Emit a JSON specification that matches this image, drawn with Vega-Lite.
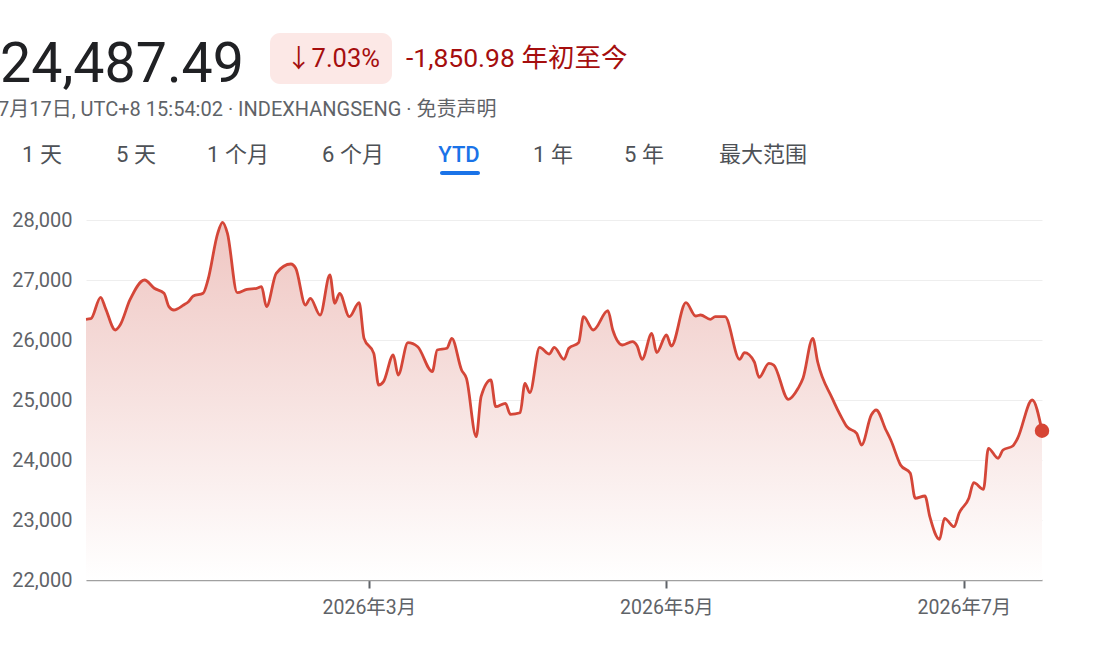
{
  "$schema": "https://vega.github.io/schema/vega-lite/v6.json",
  "width": 956,
  "height": 360,
  "autosize": "none",
  "padding": {"left": 86, "top": 220, "right": 58, "bottom": 66},
  "background": "white",
  "config": {
    "view": {"stroke": null},
    "font": "Roboto, 'Noto Sans CJK SC', sans-serif"
  },
  "data": {"values": [
    {"date": "2026-01-02", "v": 26345},
    {"date": "2026-01-03", "v": 26355},
    {"date": "2026-01-05", "v": 26712},
    {"date": "2026-01-06", "v": 26528},
    {"date": "2026-01-08", "v": 26167},
    {"date": "2026-01-09", "v": 26250},
    {"date": "2026-01-11", "v": 26667},
    {"date": "2026-01-14", "v": 27000},
    {"date": "2026-01-16", "v": 26862},
    {"date": "2026-01-18", "v": 26778},
    {"date": "2026-01-19", "v": 26555},
    {"date": "2026-01-20", "v": 26500},
    {"date": "2026-01-22", "v": 26583},
    {"date": "2026-01-23", "v": 26638},
    {"date": "2026-01-24", "v": 26733},
    {"date": "2026-01-26", "v": 26778},
    {"date": "2026-01-27", "v": 27000},
    {"date": "2026-01-29", "v": 27778},
    {"date": "2026-01-30", "v": 27962},
    {"date": "2026-01-31", "v": 27778},
    {"date": "2026-02-02", "v": 26788},
    {"date": "2026-02-04", "v": 26845},
    {"date": "2026-02-06", "v": 26862},
    {"date": "2026-02-07", "v": 26888},
    {"date": "2026-02-08", "v": 26555},
    {"date": "2026-02-10", "v": 27112},
    {"date": "2026-02-13", "v": 27267},
    {"date": "2026-02-14", "v": 27195},
    {"date": "2026-02-16", "v": 26583},
    {"date": "2026-02-17", "v": 26695},
    {"date": "2026-02-19", "v": 26417},
    {"date": "2026-02-21", "v": 27083},
    {"date": "2026-02-22", "v": 26612},
    {"date": "2026-02-23", "v": 26778},
    {"date": "2026-02-25", "v": 26388},
    {"date": "2026-02-27", "v": 26622},
    {"date": "2026-02-28", "v": 26028},
    {"date": "2026-03-02", "v": 25778},
    {"date": "2026-03-03", "v": 25250},
    {"date": "2026-03-04", "v": 25305},
    {"date": "2026-03-06", "v": 25750},
    {"date": "2026-03-07", "v": 25417},
    {"date": "2026-03-09", "v": 25955},
    {"date": "2026-03-11", "v": 25888},
    {"date": "2026-03-14", "v": 25472},
    {"date": "2026-03-15", "v": 25833},
    {"date": "2026-03-17", "v": 25862},
    {"date": "2026-03-18", "v": 26028},
    {"date": "2026-03-20", "v": 25500},
    {"date": "2026-03-21", "v": 25360},
    {"date": "2026-03-23", "v": 24388},
    {"date": "2026-03-24", "v": 25055},
    {"date": "2026-03-26", "v": 25333},
    {"date": "2026-03-27", "v": 24888},
    {"date": "2026-03-29", "v": 24945},
    {"date": "2026-03-30", "v": 24762},
    {"date": "2026-04-01", "v": 24788},
    {"date": "2026-04-02", "v": 25278},
    {"date": "2026-04-03", "v": 25122},
    {"date": "2026-04-05", "v": 25878},
    {"date": "2026-04-07", "v": 25767},
    {"date": "2026-04-08", "v": 25878},
    {"date": "2026-04-10", "v": 25678},
    {"date": "2026-04-11", "v": 25862},
    {"date": "2026-04-13", "v": 25955},
    {"date": "2026-04-14", "v": 26388},
    {"date": "2026-04-16", "v": 26167},
    {"date": "2026-04-19", "v": 26488},
    {"date": "2026-04-20", "v": 26167},
    {"date": "2026-04-22", "v": 25917},
    {"date": "2026-04-24", "v": 25972},
    {"date": "2026-04-25", "v": 25900},
    {"date": "2026-04-26", "v": 25678},
    {"date": "2026-04-28", "v": 26112},
    {"date": "2026-04-29", "v": 25790},
    {"date": "2026-05-01", "v": 26083},
    {"date": "2026-05-02", "v": 25900},
    {"date": "2026-05-05", "v": 26622},
    {"date": "2026-05-07", "v": 26400},
    {"date": "2026-05-08", "v": 26417},
    {"date": "2026-05-10", "v": 26345},
    {"date": "2026-05-11", "v": 26388},
    {"date": "2026-05-13", "v": 26388},
    {"date": "2026-05-16", "v": 25678},
    {"date": "2026-05-17", "v": 25788},
    {"date": "2026-05-19", "v": 25638},
    {"date": "2026-05-20", "v": 25378},
    {"date": "2026-05-22", "v": 25612},
    {"date": "2026-05-23", "v": 25583},
    {"date": "2026-05-26", "v": 25012},
    {"date": "2026-05-28", "v": 25195},
    {"date": "2026-05-29", "v": 25362},
    {"date": "2026-05-31", "v": 26028},
    {"date": "2026-06-01", "v": 25638},
    {"date": "2026-06-04", "v": 25028},
    {"date": "2026-06-06", "v": 24695},
    {"date": "2026-06-07", "v": 24555},
    {"date": "2026-06-09", "v": 24445},
    {"date": "2026-06-10", "v": 24250},
    {"date": "2026-06-12", "v": 24750},
    {"date": "2026-06-13", "v": 24833},
    {"date": "2026-06-15", "v": 24500},
    {"date": "2026-06-16", "v": 24333},
    {"date": "2026-06-18", "v": 23917},
    {"date": "2026-06-20", "v": 23778},
    {"date": "2026-06-21", "v": 23362},
    {"date": "2026-06-23", "v": 23400},
    {"date": "2026-06-24", "v": 23055},
    {"date": "2026-06-26", "v": 22678},
    {"date": "2026-06-27", "v": 23028},
    {"date": "2026-06-29", "v": 22888},
    {"date": "2026-06-30", "v": 23112},
    {"date": "2026-07-02", "v": 23362},
    {"date": "2026-07-03", "v": 23622},
    {"date": "2026-07-05", "v": 23512},
    {"date": "2026-07-06", "v": 24195},
    {"date": "2026-07-08", "v": 24028},
    {"date": "2026-07-09", "v": 24167},
    {"date": "2026-07-11", "v": 24233},
    {"date": "2026-07-12", "v": 24362},
    {"date": "2026-07-15", "v": 25000},
    {"date": "2026-07-17", "v": 24487.49}
  ]},
  "encoding": {
    "x": {
      "field": "date", "type": "temporal", "title": null,
      "scale": {"type": "utc", "domain": [{"year": 2026, "month": 1, "date": 2, "utc": true}, {"year": 2026, "month": 7, "date": 17, "utc": true}]},
      "axis": {
        "values": [{"year": 2026, "month": 3, "date": 1, "utc": true}, {"year": 2026, "month": 5, "date": 1, "utc": true}, {"year": 2026, "month": 7, "date": 1, "utc": true}],
        "labelExpr": "utcFormat(datum.value, '%Y年%-m月')",
        "grid": false,
        "domainColor": "#a0a0a0", "domainWidth": 1.5,
        "tickColor": "#5f6368", "tickSize": 8, "tickWidth": 2,
        "labelFontSize": 19.5, "labelColor": "#5f6368", "labelPadding": 10
      }
    },
    "y": {
      "field": "v", "type": "quantitative", "title": null,
      "scale": {"domain": [22000, 28000], "zero": false},
      "axis": {
        "values": [22000, 23000, 24000, 25000, 26000, 27000, 28000],
        "format": ",d",
        "domain": false, "ticks": false,
        "gridColor": "#eeeeee", "gridWidth": 1,
        "labelPadding": 14, "labelFontSize": 20, "labelColor": "#5f6368"
      }
    }
  },
  "layer": [
    {
      "mark": {"type": "area", "interpolate": "monotone",
        "color": {"gradient": "linear", "x1": 0, "y1": 0, "x2": 0, "y2": 1,
          "stops": [{"offset": 0, "color": "#efc6c2"}, {"offset": 1, "color": "#ffffff"}]}},
      "encoding": {"y2": {"datum": 22000}}
    },
    {
      "mark": {"type": "line", "interpolate": "monotone", "color": "#d44638", "strokeWidth": 2.8},
      "encoding": {}
    },
    {
      "transform": [{"filter": "datum.v == 24487.49"}],
      "mark": {"type": "point", "filled": true, "opacity": 1, "color": "#d64535", "size": 210},
      "encoding": {}
    },
    {
      "data": {"values": [{}]},
      "mark": {"type": "text", "text": "24,487.49", "align": "left", "baseline": "alphabetic", "fontSize": 55.5, "color": "#202124"},
      "encoding": {"x": {"value": -86}, "y": {"value": -138}}
    },
    {
      "data": {"values": [{}]},
      "mark": {"type": "rect", "color": "#fce8e6", "cornerRadius": 10},
      "encoding": {"x": {"value": 184}, "x2": {"value": 306}, "y": {"value": -187}, "y2": {"value": -136}}
    },
    {
      "data": {"values": [{}]},
      "mark": {"type": "text", "text": "↓7.03%", "align": "center", "baseline": "middle", "fontSize": 25.5, "color": "#a50e0e"},
      "encoding": {"x": {"value": 247}, "y": {"value": -161}}
    },
    {
      "data": {"values": [{}]},
      "mark": {"type": "text", "text": "-1,850.98 年初至今", "align": "left", "baseline": "middle", "fontSize": 26.5, "color": "#a50e0e"},
      "encoding": {"x": {"value": 320}, "y": {"value": -161}}
    },
    {
      "data": {"values": [{}]},
      "mark": {"type": "text", "text": "7月17日, UTC+8 15:54:02 · INDEXHANGSENG · 免责声明", "align": "left", "baseline": "middle", "fontSize": 20, "color": "#5f6368"},
      "encoding": {"x": {"value": -88}, "y": {"value": -110}}
    },
    {
      "data": {"values": [{}]},
      "mark": {"type": "text", "text": "1 天", "align": "center", "baseline": "middle", "fontSize": 22, "color": "#4d5156"},
      "encoding": {"x": {"value": -44}, "y": {"value": -65}}
    },
    {
      "data": {"values": [{}]},
      "mark": {"type": "text", "text": "5 天", "align": "center", "baseline": "middle", "fontSize": 22, "color": "#4d5156"},
      "encoding": {"x": {"value": 50}, "y": {"value": -65}}
    },
    {
      "data": {"values": [{}]},
      "mark": {"type": "text", "text": "1 个月", "align": "center", "baseline": "middle", "fontSize": 22, "color": "#4d5156"},
      "encoding": {"x": {"value": 152}, "y": {"value": -65}}
    },
    {
      "data": {"values": [{}]},
      "mark": {"type": "text", "text": "6 个月", "align": "center", "baseline": "middle", "fontSize": 22, "color": "#4d5156"},
      "encoding": {"x": {"value": 267}, "y": {"value": -65}}
    },
    {
      "data": {"values": [{}]},
      "mark": {"type": "text", "text": "YTD", "align": "center", "baseline": "middle", "fontSize": 22, "fontWeight": 500, "color": "#1a73e8"},
      "encoding": {"x": {"value": 373}, "y": {"value": -65}}
    },
    {
      "data": {"values": [{}]},
      "mark": {"type": "text", "text": "1 年", "align": "center", "baseline": "middle", "fontSize": 22, "color": "#4d5156"},
      "encoding": {"x": {"value": 467}, "y": {"value": -65}}
    },
    {
      "data": {"values": [{}]},
      "mark": {"type": "text", "text": "5 年", "align": "center", "baseline": "middle", "fontSize": 22, "color": "#4d5156"},
      "encoding": {"x": {"value": 558}, "y": {"value": -65}}
    },
    {
      "data": {"values": [{}]},
      "mark": {"type": "text", "text": "最大范围", "align": "center", "baseline": "middle", "fontSize": 22, "color": "#4d5156"},
      "encoding": {"x": {"value": 677}, "y": {"value": -65}}
    },
    {
      "data": {"values": [{}]},
      "mark": {"type": "rect", "color": "#1a73e8", "cornerRadius": 2},
      "encoding": {"x": {"value": 354}, "x2": {"value": 394}, "y": {"value": -49}, "y2": {"value": -45}}
    }
  ]
}
